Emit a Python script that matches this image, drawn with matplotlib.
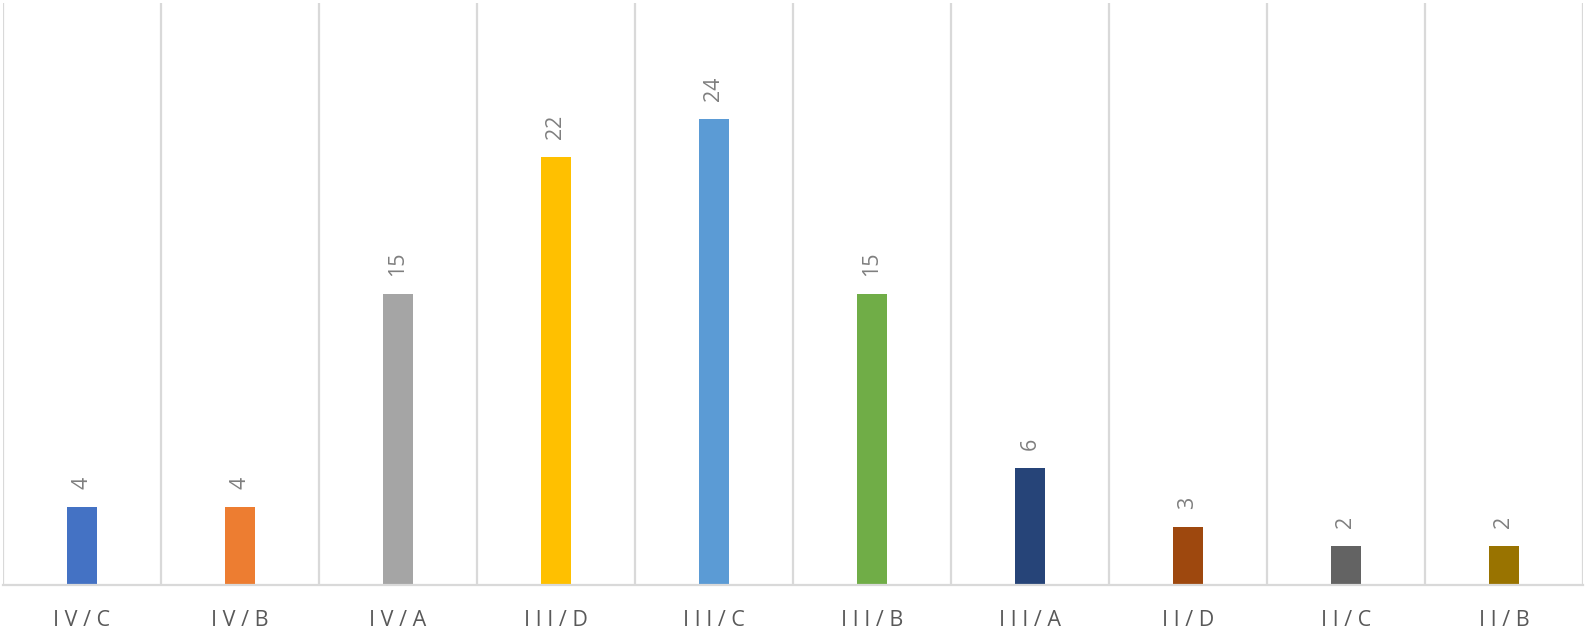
import matplotlib.pyplot as plt
import numpy as np

# Chart data
categories = ["IV/C", "IV/B", "IV/A", "III/D", "III/C", "III/B", "III/A", "II/D", "II/C", "II/B"]
values = [4, 4, 15, 22, 24, 15, 6, 3, 2, 2]
colors = ["#4472C4", "#ED7D31", "#A5A5A5", "#FFC000", "#5B9BD5",
          "#70AD47", "#264478", "#9E480E", "#636363", "#997300"]

plt.rcParams['font.family'] = ['Open Sans', 'DejaVu Sans']

fig = plt.figure(figsize=(15.88, 6.34), dpi=100)
ax = fig.add_axes([3 / 1588, 49 / 634, 1580 / 1588, 582 / 634])

x = np.arange(len(categories))
ax.bar(x, values, width=0.19, color=colors, zorder=3)

# Category separators
for b in np.arange(-0.5, len(categories), 1.0):
    ax.axvline(b, color="#d9d9d9", linewidth=1.6, zorder=1)

# Value labels, rotated
for xi, v in zip(x, values):
    ax.annotate(str(v), (xi, v), xytext=(0, 18), textcoords="offset pixels",
                rotation=90, ha="center", va="bottom", fontsize=15.5, color="#7f7f7f")

ax.set_xlim(-0.5, len(categories) - 0.5)
ax.set_ylim(0, 29.95)
ax.set_yticks([])
ax.set_xticks(x)
ax.set_xticklabels([" ".join(c) for c in categories], fontsize=15.5, color="#595959")
ax.tick_params(axis="x", length=0, pad=18)

for side in ["top", "left", "right"]:
    ax.spines[side].set_visible(False)
ax.spines["bottom"].set_color("#d9d9d9")
ax.spines["bottom"].set_linewidth(1.6)
ax.spines["bottom"].set_zorder(4)

fig.savefig("out.png", dpi=100)
